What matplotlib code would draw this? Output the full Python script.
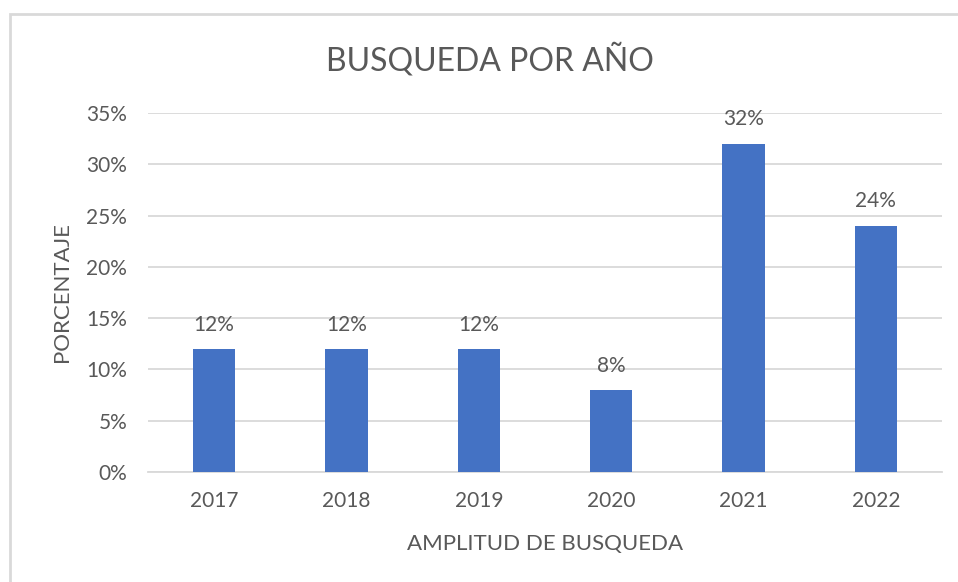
import matplotlib.pyplot as plt
from matplotlib.patches import Rectangle
from matplotlib.ticker import PercentFormatter

years = ["2017", "2018", "2019", "2020", "2021", "2022"]
values = [12, 12, 12, 8, 32, 24]
labels = ["12%", "12%", "12%", "8%", "32%", "24%"]

text_color = "#595959"
bar_color = "#4472C4"
grid_color = "#D9D9D9"

plt.rcParams["font.family"] = ["Lato", "DejaVu Sans"]

W, H = 958, 582
fig = plt.figure(figsize=(W / 100, H / 100), dpi=100)

# chart border (light gray frame, runs off right/bottom edges)
fig.patches.append(Rectangle((10 / W, -0.1), 2, 1.1 - 14 / H, transform=fig.transFigure,
                             facecolor="none", edgecolor=grid_color, linewidth=2))

ax = fig.add_axes([148 / W, 1 - 472 / H, (942 - 148) / W, (472 - 113) / H])

x = range(len(years))
ax.bar(x, values, width=0.32, color=bar_color, zorder=3)
for xi, v, lab in zip(x, values, labels):
    ax.text(xi, v + 1.4, lab, ha="center", va="bottom", fontsize=15, color=text_color)

ax.set_xlim(-0.5, len(years) - 0.5)
ax.set_ylim(0, 35)
ax.set_yticks(range(0, 36, 5))
ax.yaxis.set_major_formatter(PercentFormatter(decimals=0))
ax.set_xticks(list(x))
ax.set_xticklabels(years)

ax.grid(axis="y", color=grid_color, linewidth=1.3, zorder=0)
for s in ["top", "right", "left"]:
    ax.spines[s].set_visible(False)
ax.spines["bottom"].set_color(grid_color)
ax.spines["bottom"].set_linewidth(1.3)
ax.tick_params(length=0, labelsize=15, labelcolor=text_color)
ax.tick_params(axis="y", pad=15)
ax.tick_params(axis="x", pad=14)

ax.set_xlabel("AMPLITUD DE BUSQUEDA", fontsize=16, color=text_color, labelpad=16)
ax.set_ylabel("PORCENTAJE", fontsize=16, color=text_color, labelpad=10)

fig.text(490 / W, 1 - 60 / H, "BUSQUEDA POR AÑO", ha="center", va="center",
         fontsize=23, color=text_color)

fig.savefig("out.png", dpi=100)
